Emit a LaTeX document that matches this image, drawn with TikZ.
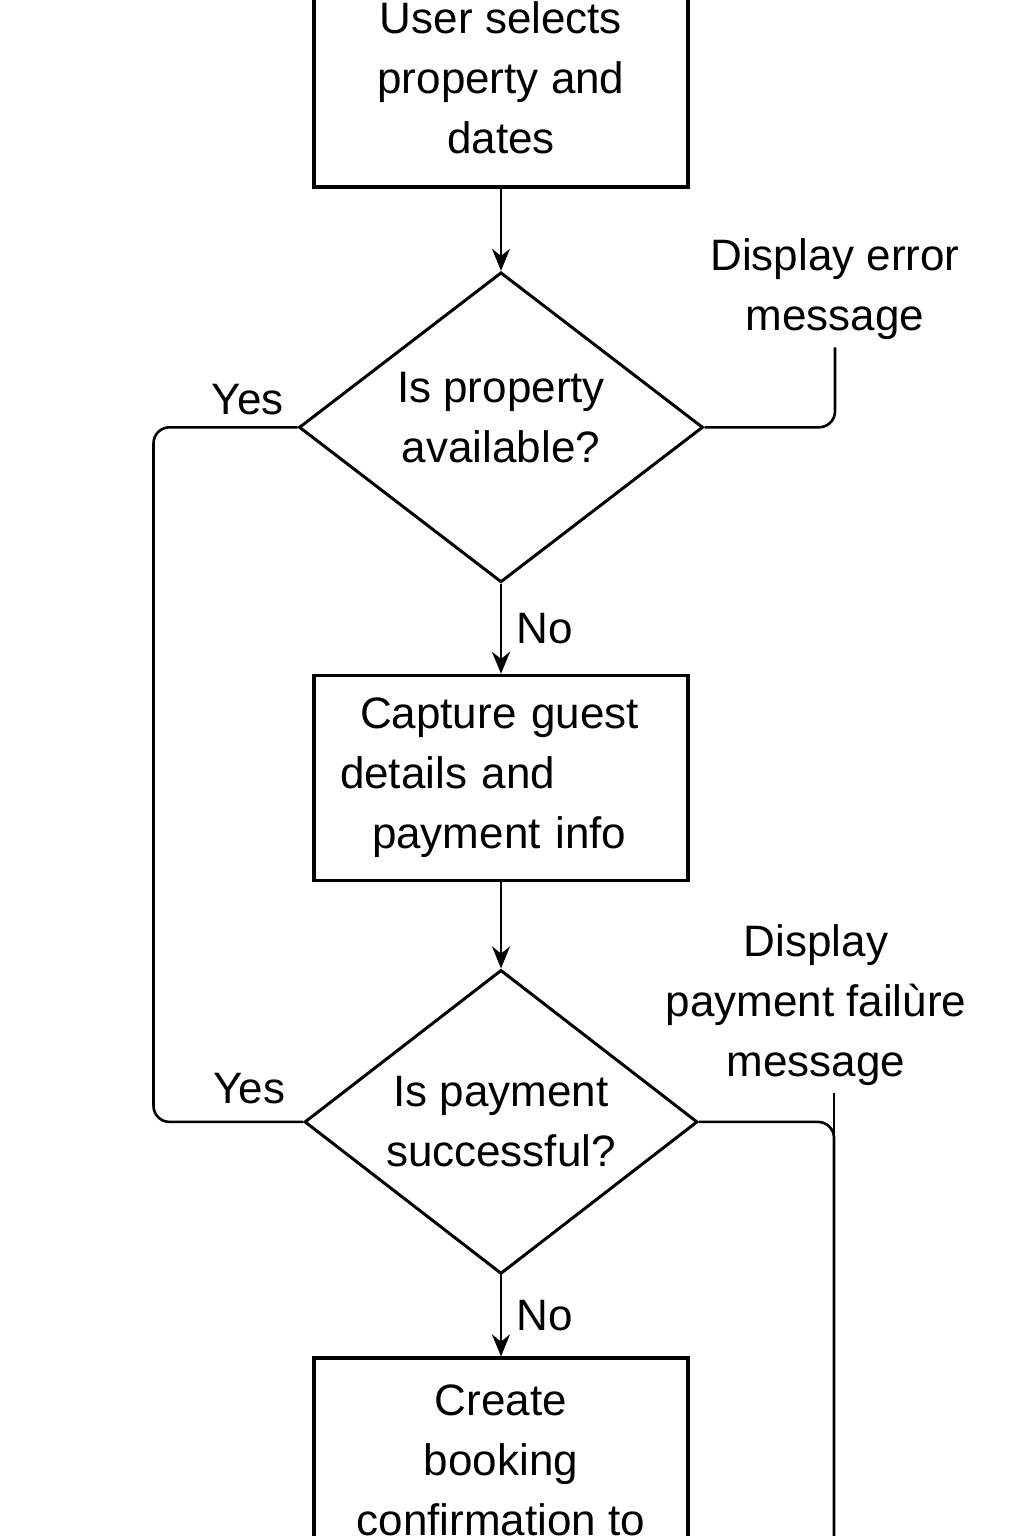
\documentclass[tikz,border=0pt]{standalone}
\usepackage{fontspec}
\setmainfont{Liberation Sans}
\usetikzlibrary{arrows.meta, positioning, shapes.geometric}

\begin{document}
\begin{tikzpicture}[x=0.5pt, y=-0.5pt, font=\fontsize{22}{30}\selectfont,
        line width=1.3pt, >={Stealth[length=11pt, width=9pt]},
        box/.style={draw, line width=1.8pt, minimum width=187pt,
                    minimum height=102.5pt, align=center},
        decision/.style={draw, diamond, line width=1.5pt, aspect=1.3,
                    inner sep=0pt, align=center},
        note/.style={align=center}]
      \useasboundingbox (0,0) rectangle (1024,1536);
      \node[box, minimum height=109pt] (select) at (501,78) {User selects\\property and\\dates};
      \node[decision, minimum width=202pt, minimum height=155pt, below=41pt of select] (avail)
        {Is property\\available?\rule[-10pt]{0pt}{10pt}};
      \node[box, text width=161pt, align=left, below=45pt of avail] (capture)
        {\hspace*{10pt}Capture guest\\details and\\\hspace*{16pt}payment info};
      \node[decision, minimum width=196.5pt, minimum height=152pt, below=43pt of capture] (paid) {Is payment\\successful?};
      \node[box, below=40.5pt of paid] (booking) {Create\\booking\\confirmation to};
      \node[note] (err) at (835,289) {Display error\\message};
      \node[note] (fail) at (816,1005) {Display\\payment failùre\\message};
      \coordinate (failend) at (834,1570);
      \draw[->] (select) -- (avail);
      \draw[->] (avail) -- node[right, xshift=4pt] {No} (capture);
      \draw[->] (capture) -- (paid);
      \draw[->] (paid) -- node[right, xshift=4pt] {No} (booking);
      \draw[rounded corners=8pt] (avail.west) -- node[pos=0, above left, xshift=-3pt, yshift=2pt] {Yes} ++(-144,0)
        |- node[pos=1, above left, xshift=-5pt, yshift=5pt] {Yes} (paid.west);
      \draw[rounded corners=8pt] (avail.east) -| (err.south);
      \draw[rounded corners=8pt] (paid.east) -| (failend);
      \draw (fail.south -| failend) -- (failend);
    \end{tikzpicture}
\end{document}
